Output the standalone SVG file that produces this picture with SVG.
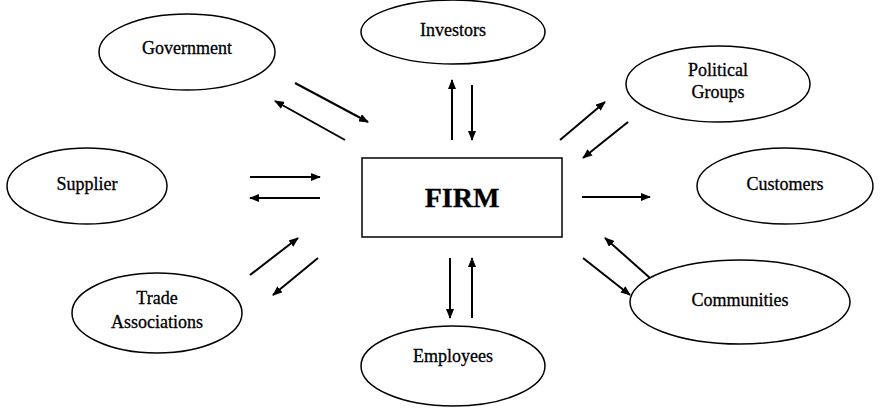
<svg xmlns="http://www.w3.org/2000/svg" width="884" height="419" viewBox="0 0 884 419" font-family="'Liberation Serif', 'DejaVu Serif', serif">
<defs><marker id="a" markerWidth="10" markerHeight="8" refX="9" refY="4" orient="auto" markerUnits="userSpaceOnUse"><path d="M0,0L10,4L0,8z" fill="#000"/></marker></defs>
<style>ellipse,rect{fill:#fff;stroke:#000;stroke-width:1.5}text{font-family:'Liberation Serif','DejaVu Serif',serif;font-size:18px;text-anchor:middle;stroke:#000;stroke-width:0.3}line{stroke:#000;stroke-width:2;marker-end:url(#a)}</style>
<rect width="884" height="419" fill="#fff" style="stroke:none"/>
<g id="firm"><rect x="362" y="158" width="200" height="79"/><text x="462" y="207" style="font-size:28px;font-weight:bold">FIRM</text></g>
<g id="government"><ellipse cx="187" cy="52" rx="88" ry="38"/><text x="187" y="54">Government</text></g>
<g id="investors"><ellipse cx="453" cy="32" rx="92" ry="32"/><text x="453" y="36">Investors</text></g>
<g id="political"><ellipse cx="718" cy="84" rx="92" ry="38"/><text x="718" y="76">Political</text><text x="718" y="98">Groups</text></g>
<g id="supplier"><ellipse cx="87" cy="186" rx="80" ry="38"/><text x="87" y="190">Supplier</text></g>
<g id="customers"><ellipse cx="785" cy="186" rx="88" ry="38"/><text x="785" y="190">Customers</text></g>
<g id="trade"><ellipse cx="157" cy="313" rx="85" ry="40"/><text x="157" y="304">Trade</text><text x="157" y="328">Associations</text></g>
<g id="communities"><ellipse cx="740" cy="302" rx="110" ry="42"/><text x="740" y="306">Communities</text></g>
<g id="employees"><ellipse cx="453" cy="366" rx="92" ry="40"/><text x="453" y="362">Employees</text></g>
<g id="connectors">
<line x1="295" y1="83" x2="368" y2="122"/><line x1="345" y1="140" x2="275" y2="101"/>
<line x1="452" y1="140" x2="452" y2="80"/><line x1="472" y1="85" x2="472" y2="140"/>
<line x1="560" y1="140" x2="605" y2="102"/><line x1="628" y1="122" x2="583" y2="158"/>
<line x1="250" y1="177" x2="320" y2="177"/><line x1="320" y1="198" x2="250" y2="198"/>
<line x1="582" y1="197" x2="650" y2="197"/>
<line x1="250" y1="275" x2="298" y2="238"/><line x1="318" y1="258" x2="273" y2="295"/>
<line x1="450" y1="258" x2="450" y2="318"/><line x1="472" y1="318" x2="472" y2="258"/>
<line x1="583" y1="258" x2="630" y2="295"/><line x1="650" y1="278" x2="605" y2="238"/>
</g>
</svg>
